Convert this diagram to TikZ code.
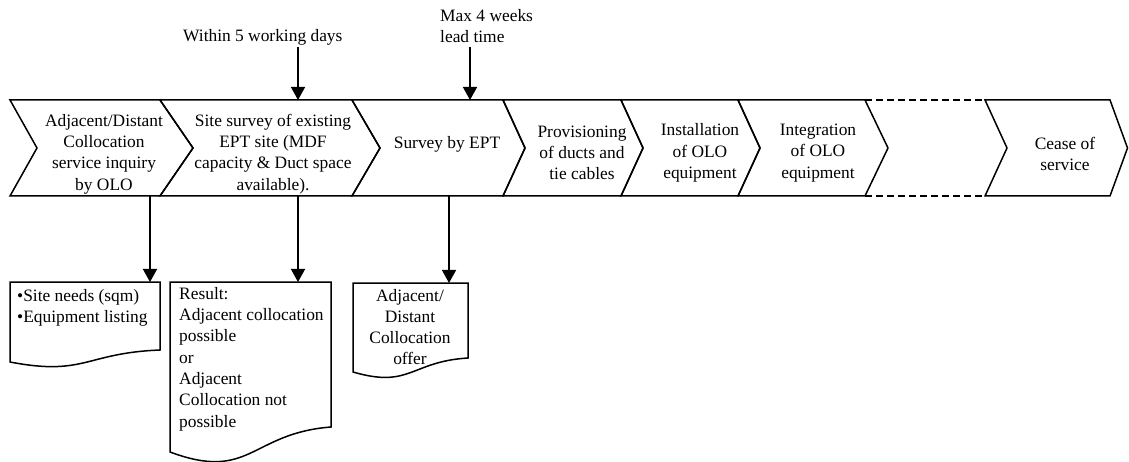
\documentclass[tikz,border=0pt]{standalone}
\usepackage{fontspec}
\setmainfont{Liberation Serif}
\usetikzlibrary{arrows.meta}
\begin{document}
\begin{tikzpicture}[x=1pt,y=-1pt,
  shapeline/.style={line width=1.5pt, line join=miter},
  lbl/.style={inner sep=0pt, align=center, font=\fontsize{17.4}{21.3}\selectfont},
  conn/.style={line width=1.5pt, -{Triangle[length=13pt,width=14pt]}},
  dashline/.style={line width=1.5pt, dash pattern=on 7pt off 4pt}]
\useasboundingbox (0,0) rectangle (1129,462);

% chevrons
\draw[shapeline] (10,100) -- (160,100) -- (193,148) -- (160,196) -- (10,196) -- (37,148) -- cycle;
\draw[shapeline] (160,100) -- (352,100) -- (380,148) -- (352,196) -- (160,196) -- (193,148) -- cycle;
\draw[shapeline] (352,100) -- (503,100) -- (525,148) -- (503,196) -- (352,196) -- (380,148) -- cycle;
\draw[shapeline] (503,100) -- (621,100) -- (643,148) -- (621,196) -- (503,196) -- (525,148) -- cycle;
\draw[shapeline] (621,100) -- (738,100) -- (760,148) -- (738,196) -- (621,196) -- (643,148) -- cycle;
\draw[shapeline] (738,100) -- (865,100) -- (888,148) -- (865,196) -- (738,196) -- (760,148) -- cycle;
\draw[dashline] (865,100) -- (985,100);
\draw[dashline] (865,196) -- (985,196);
\draw[shapeline] (985,100) -- (1110,100) -- (1127.5,148) -- (1110,196) -- (985,196) -- (1007,148) -- cycle;

% chevron texts
\node[lbl] (s1) at (104,154) {Adjacent/Distant\\Collocation\\service inquiry\\by OLO};
\node[lbl] (s2) at (273,154) {Site survey of existing\\EPT site (MDF\\capacity \& Duct space\\available).};
\node[lbl] (s3) at (447,144) {Survey by EPT};
\node[lbl] (s4) at (582,153) {Provisioning\\of ducts and\\tie cables};
\node[lbl] (s5) at (700,153) {Installation\\of OLO\\equipment};
\node[lbl] (s6) at (818,153) {Integration\\of OLO\\equipment};
\node[lbl] (s7) at (1065,154) {Cease of\\service};

% top labels
\node[lbl, anchor=west] (t1) at (183,37) {Within 5 working days};
\node[lbl, anchor=west, align=left] (t2) at (440,26) {Max 4 weeks\\lead time};
\coordinate (t1a) at (298,47);
\coordinate (t1b) at (298,100);
\coordinate (t2a) at (470,47);
\coordinate (t2b) at (470,100);
\draw[conn] (t1a) -- (t1b);
\draw[conn] (t2a) -- (t2b);

% document boxes
\draw[shapeline] (10,362) -- (10,282) -- (160,282) -- (160,350)
  .. controls (85,353) and (85,376.4) .. (10,362) -- cycle;
\draw[shapeline] (170,452) -- (170,282) -- (331,282) -- (331,427)
  .. controls (250.5,433.25) and (250.5,482) .. (170,452) -- cycle;
\draw[shapeline] (353,372) -- (353,283) -- (468,283) -- (468,358)
  .. controls (410.5,361.5) and (410.5,388.8) .. (353,372) -- cycle;

\node[lbl, anchor=west, align=left] (d1) at (17,308) {•Site needs (sqm)\\•Equipment listing};
\node[lbl, anchor=west, align=left] (d2) at (179,359) {Result:\\Adjacent collocation\\possible\\or\\Adjacent\\Collocation not\\possible};
\node[lbl] (d3) at (410,327) {Adjacent/\\Distant\\Collocation\\offer};

% bottom connectors
\coordinate (b1a) at (150,196);
\coordinate (b1b) at (150,282);
\coordinate (b2a) at (298,196);
\coordinate (b2b) at (298,282);
\coordinate (b3a) at (449,196);
\coordinate (b3b) at (449,283);
\draw[conn] (b1a) -- (b1b);
\draw[conn] (b2a) -- (b2b);
\draw[conn] (b3a) -- (b3b);
\end{tikzpicture}
\end{document}
